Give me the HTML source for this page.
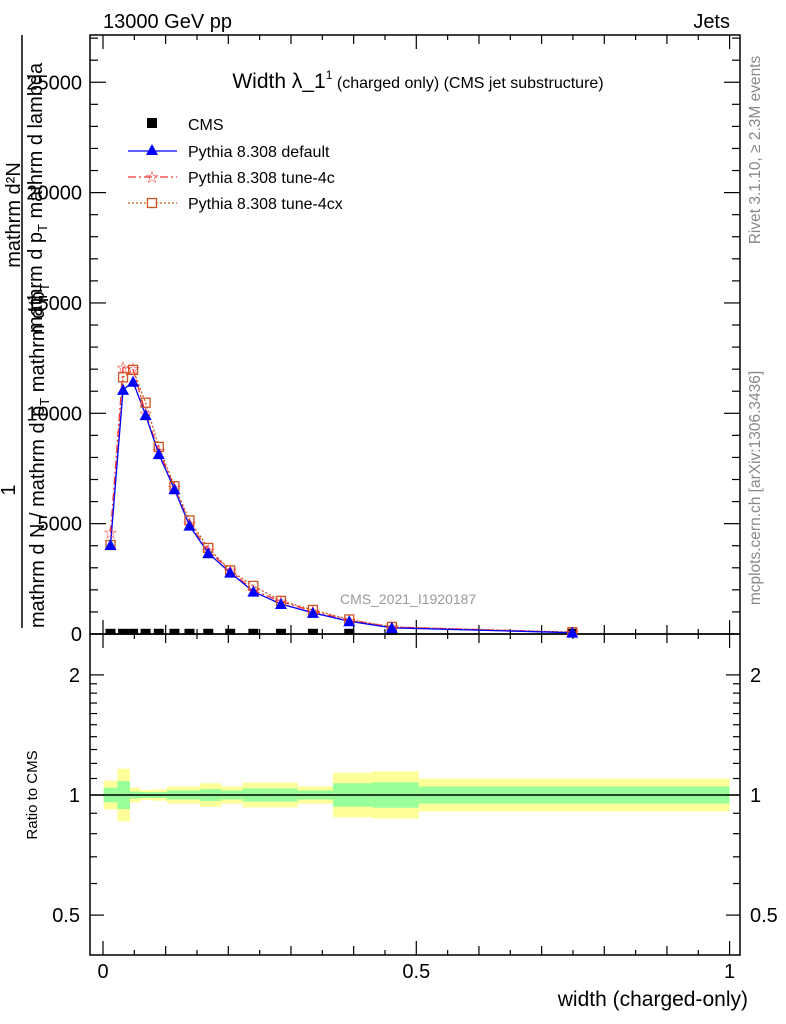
<!DOCTYPE html>
<html><head><meta charset="utf-8"><style>
html,body{margin:0;padding:0;background:#fff;}
svg{display:block;font-family:"Liberation Sans",sans-serif;}
</style></head><body>
<svg id="c" width="786" height="1024" viewBox="0 0 786 1024" xmlns="http://www.w3.org/2000/svg">
<g id="bands"></g>
<g id="grid"></g>
<g id="series"></g>
<text x="103" y="28" font-size="20">13000 GeV pp</text>
<text x="730" y="28" font-size="20" text-anchor="end">Jets</text>
<text x="418" y="88" text-anchor="middle"><tspan font-size="21">Width λ_1</tspan><tspan font-size="12" dy="-9">1</tspan><tspan font-size="16" dy="9"> (charged only) (CMS jet substructure)</tspan></text>
<text x="340" y="604" font-size="14" fill="#999">CMS_2021_I1920187</text>
<text transform="translate(760,150) rotate(-90)" text-anchor="middle" font-size="15.5" fill="#888">Rivet 3.1.10, ≥ 2.3M events</text>
<text transform="translate(760,488) rotate(-90)" text-anchor="middle" font-size="15.5" fill="#888">mcplots.cern.ch [arXiv:1306.3436]</text>
<g font-size="20">
<line x1="22" y1="35" x2="22" y2="628" stroke="#000" stroke-width="1.5"/>
<text transform="translate(20,215) rotate(-90)" text-anchor="middle">mathrm d²N</text>
<text transform="translate(42,198) rotate(-90)" text-anchor="middle">mathrm d p<tspan font-size="13" dy="5">T</tspan><tspan dy="-5"> mathrm d lambda</tspan></text>
<text transform="translate(15,490) rotate(-90)" text-anchor="middle">1</text>
<text transform="translate(44,628) rotate(-90)" text-anchor="start">mathrm d N / mathrm d p<tspan font-size="13" dy="5">T</tspan><tspan dy="-5"> mathrm d p</tspan><tspan font-size="13" dy="5">T</tspan></text>
</g>
<text transform="translate(37,795) rotate(-90)" text-anchor="middle" font-size="15">Ratio to CMS</text>
<text x="748" y="1006" font-size="21" text-anchor="end">width (charged-only)</text>
<g font-size="16">
<rect x="147" y="118" width="10" height="10" fill="#000"/>
<text x="188" y="130">CMS</text>
<line x1="128" y1="151" x2="177" y2="151" stroke="#0000ff" stroke-width="1.3"/>
<polygon points="152,144 158,155 146,155" fill="#0000ff"/>
<text x="188" y="157">Pythia 8.308 default</text>
<line x1="128" y1="177" x2="177" y2="177" stroke="#ff3333" stroke-width="1.3" stroke-dasharray="8,3,2,3"/>
<text x="152" y="183" font-size="17" text-anchor="middle" fill="#ff3333">☆</text>
<text x="188" y="183">Pythia 8.308 tune-4c</text>
<line x1="128" y1="203" x2="177" y2="203" stroke="#cc5522" stroke-width="1.3" stroke-dasharray="2,2"/>
<rect x="147.5" y="198.5" width="9" height="9" fill="#fff" stroke="#cc5522" stroke-width="1.3"/>
<text x="188" y="209">Pythia 8.308 tune-4cx</text>
</g>
</svg>
<script>
const xPts=[0.012,0.032,0.048,0.068,0.089,0.114,0.138,0.168,0.203,0.240,0.284,0.335,0.393,0.461,0.749];
const cmsVals=[100,100,100,100,100,100,100,100,100,100,100,100,100,100,100];
const defaultVals=[4030,11060,11430,9920,8150,6560,4910,3660,2780,1920,1360,960,580,280,60];
const tune4cVals=[4590,12080,12000,10000,8300,6640,5000,3780,2880,1980,1470,1030,620,320,70];
const tune4cxVals=[4030,11630,11970,10480,8480,6700,5150,3900,2880,2180,1500,1090,660,320,80];
const bandEdges=[0.001,0.023,0.043,0.060,0.078,0.102,0.155,0.189,0.223,0.265,0.311,0.367,0.430,0.504,1.0];
const yellowErr=[0.086,0.164,0.043,0.029,0.033,0.051,0.070,0.051,0.074,0.074,0.051,0.137,0.146,0.099];
const greenErr=[0.043,0.084,0.021,0.017,0.017,0.027,0.035,0.027,0.039,0.039,0.027,0.070,0.076,0.051];
const yTicks=[0,5000,10000,15000,20000,25000];
const rTicks=[0.5,1,2];
const xTicks=[0,0.5,1];
const X=v=>103+v*626.6;
const Y=v=>634-v*0.02207;
const R=r=>795-Math.log10(r)*399;
const NS='http://www.w3.org/2000/svg';
function mk(tag,attrs,parent){const e=document.createElementNS(NS,tag);for(const k in attrs)e.setAttribute(k,attrs[k]);parent.appendChild(e);return e;}
const bands=document.getElementById('bands'),grid=document.getElementById('grid'),ser=document.getElementById('series');
for(let i=0;i<yellowErr.length;i++){
 const x1=X(bandEdges[i]),x2=X(bandEdges[i+1]);
 const y=mk('rect',{x:x1,y:R(1+yellowErr[i]),width:x2-x1,height:R(1/(1+yellowErr[i]))-R(1+yellowErr[i]),fill:'#ffff99'},bands);
 
 
 const g=mk('rect',{x:x1,y:R(1+greenErr[i]),width:x2-x1,height:R(1/(1+greenErr[i]))-R(1+greenErr[i]),fill:'#99ff99'},bands);
 
 
}
mk('line',{x1:90,y1:R(1),x2:740,y2:R(1),stroke:'#000','stroke-width':1.5},grid);
mk('rect',{x:90,y:35,width:650,height:599,fill:'none',stroke:'#000','stroke-width':1.5},grid);
mk('rect',{x:90,y:634,width:650,height:321,fill:'none',stroke:'#000','stroke-width':1.5},grid);
for(let k=0;k<=20;k++){const v=k*0.05,x=X(v);const L=(k%10==0)?14:(k%2==0?9:5);
 [[634,-1],[35,1],[955,-1],[634,1]].forEach(([y0,d])=>mk('line',{x1:x,y1:y0,x2:x,y2:y0+d*L,stroke:'#000','stroke-width':1.2},grid));}
xTicks.forEach(v=>{const t=mk('text',{x:X(v),y:978,'font-size':20,'text-anchor':'middle'},grid);t.textContent=String(v);
 
 });
for(let v=0;v<=27000;v+=1000){const y=Y(v);const L=(v%5000==0)?16:8;
 mk('line',{x1:90,y1:y,x2:90+L,y2:y,stroke:'#000','stroke-width':1.2},grid);
 mk('line',{x1:740,y1:y,x2:740-L,y2:y,stroke:'#000','stroke-width':1.2},grid);}
yTicks.forEach(v=>{const t=mk('text',{x:82,y:Y(v)+7,'font-size':20,'text-anchor':'end'},grid);t.textContent=String(v);
 
 });
for(const r of [0.5,0.6,0.7,0.8,0.9,1,1.1,1.2,1.3,1.4,1.5,1.6,1.7,1.8,1.9,2]){const y=R(r);const L=rTicks.includes(r)?14:7;
 mk('line',{x1:90,y1:y,x2:90+L,y2:y,stroke:'#000','stroke-width':1.2},grid);
 mk('line',{x1:740,y1:y,x2:740-L,y2:y,stroke:'#000','stroke-width':1.2},grid);}
rTicks.forEach(r=>{const a=mk('text',{x:80,y:R(r)+7,'font-size':20,'text-anchor':'end'},grid);a.textContent=String(r);
 
 
 const b=mk('text',{x:750,y:R(r)+7,'font-size':20},grid);b.textContent=String(r);
 
 });
cmsVals.forEach((v,i)=>{const r=mk('rect',{x:X(xPts[i])-5,y:Y(v)-3,width:10,height:6,fill:'#000'},ser);
 
 });
function line(vals,color,dash,name){const p=mk('polyline',{points:vals.map((v,i)=>X(xPts[i])+','+Y(v)).join(' '),fill:'none',stroke:color,'stroke-width':1.3,'stroke-dasharray':dash},ser);
 
 }
line(tune4cxVals,'#cc5522','2,2','line-tune-4cx');
line(tune4cVals,'#ff3333','8,3,2,3','line-tune-4c');
line(defaultVals,'#0000ff','','line-default');
tune4cxVals.forEach((v,i)=>{const r=mk('rect',{x:X(xPts[i])-4.5,y:Y(v)-4.5,width:9,height:9,fill:'none',stroke:'#cc5522','stroke-width':1.3},ser);
 
 });
tune4cVals.forEach((v,i)=>{const t=mk('text',{x:X(xPts[i]),y:Y(v)+6,'font-size':17,'text-anchor':'middle',fill:'#ff3333'},ser);t.textContent='☆';
 
 });
defaultVals.forEach((v,i)=>{const x=X(xPts[i]),y=Y(v);const p=mk('polygon',{points:`${x},${y-6} ${x+6},${y+5} ${x-6},${y+5}`,fill:'#0000ff'},ser);
 
 });
</script>
</body></html>
